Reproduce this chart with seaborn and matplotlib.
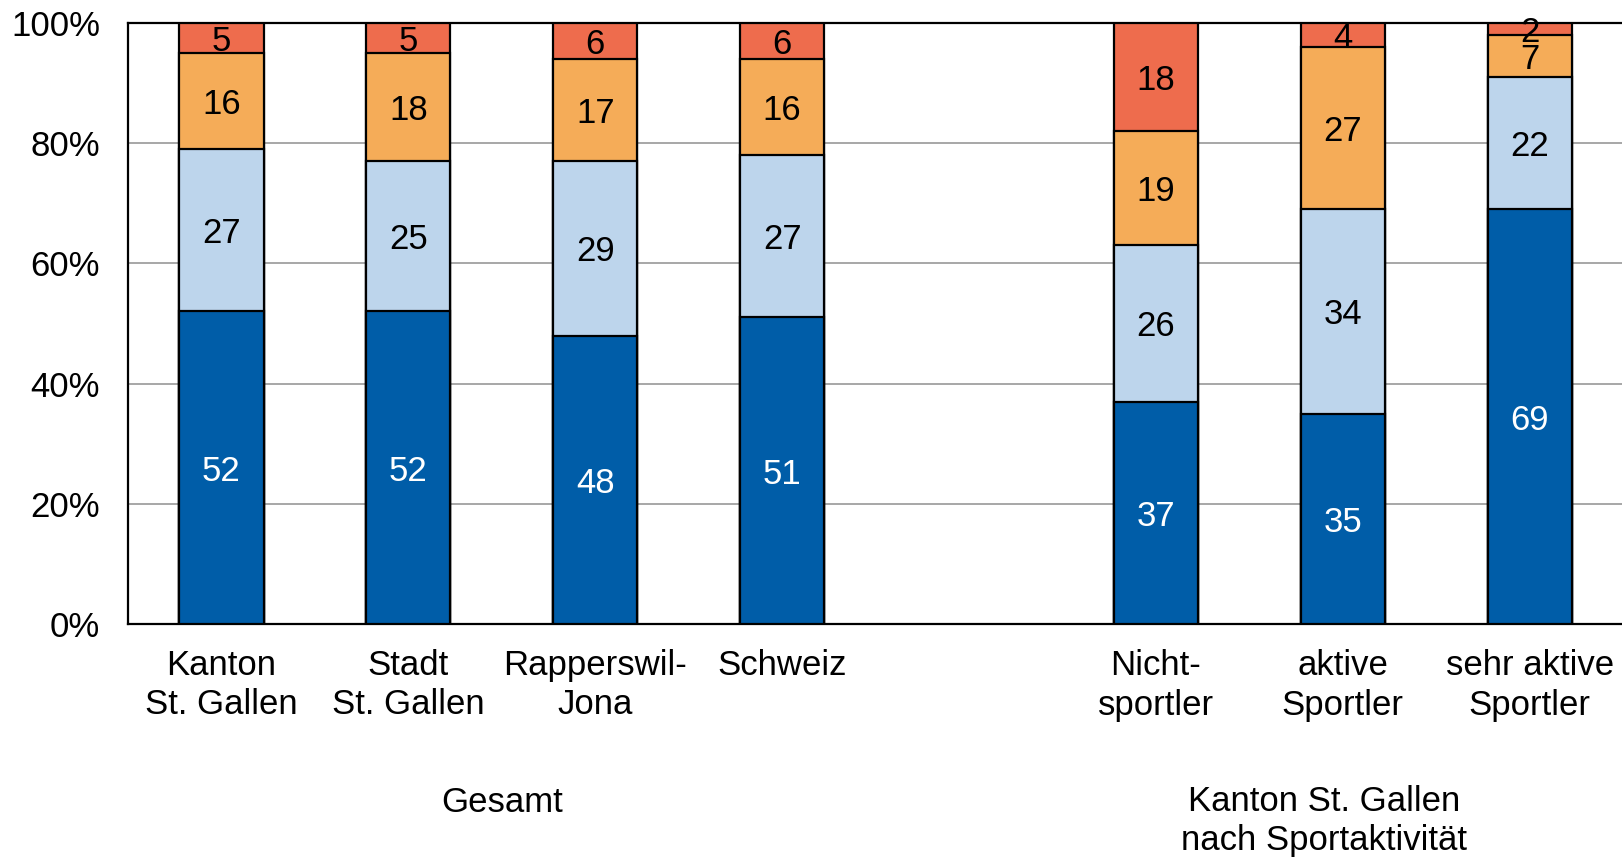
import matplotlib
matplotlib.use("Agg")
import matplotlib.pyplot as plt
import seaborn as sns
import pandas as pd
import numpy as np

categories = ["Kanton\nSt. Gallen", "Stadt\nSt. Gallen", "Rapperswil-\nJona", "Schweiz", " ",
              "Nicht-\nsportler", "aktive\nSportler", "sehr aktive\nSportler"]
data_cats = ["Kanton\nSt. Gallen", "Stadt\nSt. Gallen", "Rapperswil-\nJona", "Schweiz",
             "Nicht-\nsportler", "aktive\nSportler", "sehr aktive\nSportler"]
s1 = [52, 52, 48, 51, 37, 35, 69]
s2 = [27, 25, 29, 27, 26, 34, 22]
s3 = [16, 18, 17, 16, 19, 27, 7]
s4 = [5, 5, 6, 6, 18, 4, 2]
yticks = [0, 20, 40, 60, 80, 100]
group_labels = ["Gesamt", "Kanton St. Gallen\nnach Sportaktivität"]

colors = ["#005DA8", "#BDD5EC", "#F5AC58", "#EE6C4D"]
text_colors = ["white", "black", "black", "black"]

sns.set_style("white")
plt.rcParams["font.family"] = ["Liberation Sans", "DejaVu Sans"]
plt.rcParams["text.color"] = "black"
plt.rcParams["xtick.color"] = "black"
plt.rcParams["ytick.color"] = "black"

FS = 25
fig = plt.figure(figsize=(16.22, 8.61), dpi=100)
ax = fig.add_axes([128/1622, 1 - 624/861, 1 - 128/1622, (624-23)/861])

series = [s1, s2, s3, s4]
cum = np.cumsum(np.array(series), axis=0)
df = pd.DataFrame({"cat": data_cats})
for i in range(3, -1, -1):
    df["v"] = cum[i]
    sns.barplot(data=df, x="cat", y="v", order=categories, color=colors[i],
                saturation=1, width=0.45, edgecolor="black", linewidth=1.6, ax=ax, zorder=3)

for i in range(4):
    for j, cat in enumerate(data_cats):
        xpos = categories.index(cat)
        ypos = cum[i][j] - series[i][j] / 2
        ax.text(xpos, ypos, str(series[i][j]), ha="center", va="center_baseline",
                fontsize=FS, color=text_colors[i], zorder=5)

ax.set_ylim(0, 100)
ax.set_xlim(-0.5, -0.5 + (1622 - 128) / 186.9)
ax.set_yticks(yticks)
ax.set_yticklabels([f"{t}%" for t in yticks])
ax.set_xticks(range(len(categories)))
ax.set_xticklabels(categories, linespacing=1.25)
ax.tick_params(axis="both", length=0, labelsize=FS, colors="black")
ax.tick_params(axis="y", pad=20)
ax.tick_params(axis="x", pad=18)
ax.set_xlabel("")
ax.set_ylabel("")
ax.yaxis.grid(True, color="#A0A0A0", linewidth=1.3, zorder=0)
ax.set_axisbelow(True)
for sp in ["left", "bottom", "top"]:
    ax.spines[sp].set_color("black")
    ax.spines[sp].set_linewidth(1.6)
ax.spines["right"].set_visible(False)

ax.text(1.5, -(802 - 624) / 601, group_labels[0], transform=ax.get_xaxis_transform(),
        ha="center", va="center", fontsize=FS)
ax.text(5.9, -(821 - 624) / 601, group_labels[1], transform=ax.get_xaxis_transform(),
        ha="center", va="center", fontsize=FS, linespacing=1.25)

fig.savefig("out.png", dpi=100)
